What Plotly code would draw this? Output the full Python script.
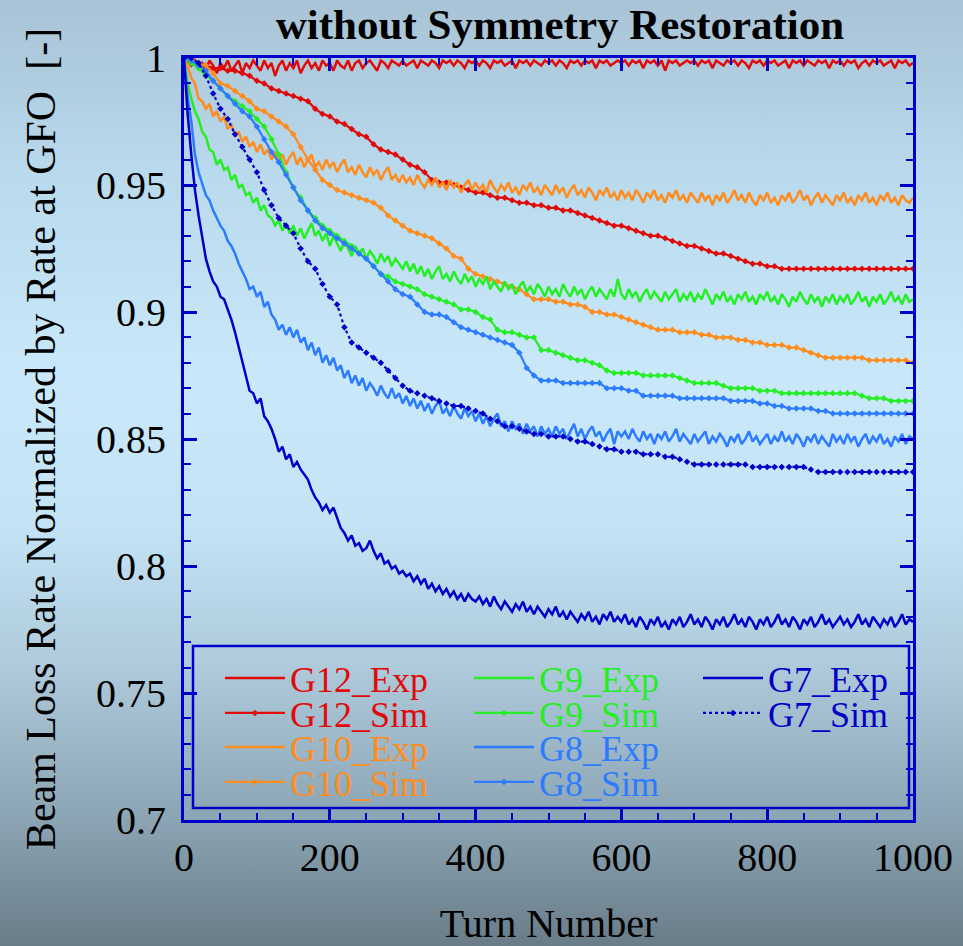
import base64
import plotly.graph_objects as go

# ---------------- data ----------------
turns_exp = list(range(0, 1001, 5))    # measured curves (noisy)
turns_sim = list(range(0, 1001, 10))   # simulated curves (with markers)

series_names = ["G12_Exp", "G12_Sim", "G10_Exp", "G10_Sim", "G9_Exp", "G9_Sim",
                "G8_Exp", "G8_Sim", "G7_Exp", "G7_Sim"]

g12_exp = [1.000, 0.999, 0.997, 0.999, 0.996, 0.998, 0.995, 0.999, 0.997, 0.994,
           0.998, 0.996, 0.999, 0.995, 0.997, 0.999, 0.994, 0.998, 0.996, 0.999,
           0.997, 0.995, 0.999, 0.996, 0.998, 0.993, 0.997, 0.999, 0.995, 0.998,
           0.996, 0.999, 0.994, 0.997, 0.999, 0.996, 0.998, 0.995, 0.999, 0.997,
           0.998, 0.995, 0.999, 0.997, 0.996, 0.999, 0.995, 0.998, 0.999, 0.996,
           0.998, 0.999, 0.997, 0.995, 0.999, 0.998, 0.996, 0.999, 0.998, 0.997,
           0.999, 0.997, 0.998, 0.999, 0.996, 0.999, 0.998, 0.997, 0.999, 0.998,
           0.996, 0.999, 0.998, 0.999, 0.997, 0.999, 0.998, 0.996, 0.999, 0.998,
           0.999, 0.997, 0.999, 0.998, 0.996, 0.999, 0.998, 0.999, 0.997, 0.998,
           0.999, 0.996, 0.999, 0.998, 0.999, 0.997, 0.999, 0.998, 0.997, 0.999,
           0.998, 0.999, 0.997, 0.999, 0.998, 0.996, 0.999, 0.998, 0.999, 0.997,
           0.999, 0.998, 0.999, 0.996, 0.999, 0.998, 0.999, 0.997, 0.998, 0.999,
           0.998, 0.999, 0.997, 0.999, 0.998, 0.999, 0.996, 0.999, 0.998, 0.999,
           0.997, 0.999, 0.995, 0.999, 0.998, 0.999, 0.997, 0.998, 0.999, 0.998,
           0.999, 0.997, 0.999, 0.998, 0.999, 0.996, 0.999, 0.998, 0.997, 0.999,
           0.998, 0.999, 0.997, 0.999, 0.998, 0.996, 0.999, 0.998, 0.999, 0.997,
           0.999, 0.998, 0.999, 0.997, 0.998, 0.999, 0.996, 0.999, 0.998, 0.999,
           0.997, 0.999, 0.998, 0.997, 0.999, 0.998, 0.999, 0.996, 0.999, 0.998,
           0.999, 0.997, 0.999, 0.998, 0.999, 0.996, 0.998, 0.999, 0.997, 0.999,
           0.998, 0.999, 0.997, 0.998, 0.999, 0.996, 0.999, 0.998, 0.999, 0.997,
           0.998]

g10_exp = [1.000, 0.997, 0.992, 0.990, 0.984, 0.983, 0.980, 0.982, 0.977, 0.979,
           0.975, 0.977, 0.972, 0.974, 0.969, 0.971, 0.967, 0.969, 0.965, 0.967,
           0.963, 0.966, 0.962, 0.964, 0.960, 0.963, 0.959, 0.962, 0.958, 0.961,
           0.963, 0.958, 0.961, 0.957, 0.960, 0.962, 0.957, 0.959, 0.956, 0.960,
           0.957, 0.959, 0.955, 0.958, 0.960, 0.955, 0.957, 0.954, 0.958, 0.955,
           0.953, 0.957, 0.954, 0.956, 0.952, 0.955, 0.957, 0.952, 0.954, 0.951,
           0.954, 0.951, 0.953, 0.950, 0.954, 0.951, 0.949, 0.952, 0.950, 0.953,
           0.949, 0.951, 0.948, 0.952, 0.949, 0.951, 0.947, 0.950, 0.952, 0.948,
           0.951, 0.948, 0.950, 0.947, 0.952, 0.949, 0.947, 0.950, 0.948, 0.951,
           0.947, 0.949, 0.946, 0.950, 0.948, 0.951, 0.947, 0.949, 0.946, 0.950,
           0.948, 0.946, 0.950, 0.947, 0.949, 0.945, 0.948, 0.950, 0.946, 0.948,
           0.945, 0.949, 0.947, 0.944, 0.948, 0.946, 0.949, 0.945, 0.947, 0.944,
           0.948, 0.945, 0.947, 0.944, 0.948, 0.946, 0.943, 0.947, 0.945, 0.948,
           0.944, 0.946, 0.943, 0.947, 0.945, 0.948, 0.944, 0.946, 0.943, 0.947,
           0.945, 0.943, 0.947, 0.944, 0.946, 0.942, 0.946, 0.944, 0.947, 0.943,
           0.945, 0.948, 0.944, 0.946, 0.943, 0.947, 0.944, 0.942, 0.946, 0.944,
           0.947, 0.943, 0.945, 0.942, 0.946, 0.944, 0.947, 0.943, 0.945, 0.948,
           0.944, 0.946, 0.942, 0.945, 0.947, 0.943, 0.946, 0.944, 0.942, 0.946,
           0.944, 0.947, 0.943, 0.945, 0.942, 0.946, 0.944, 0.947, 0.943, 0.945,
           0.942, 0.946, 0.944, 0.947, 0.943, 0.945, 0.942, 0.946, 0.944, 0.943,
           0.945]

g9_exp = [1.000, 0.990, 0.984, 0.979, 0.976, 0.971, 0.969, 0.964, 0.963, 0.958,
          0.960, 0.956, 0.957, 0.952, 0.954, 0.949, 0.950, 0.946, 0.947, 0.943,
          0.945, 0.940, 0.942, 0.938, 0.937, 0.934, 0.936, 0.932, 0.935, 0.931,
          0.934, 0.930, 0.933, 0.929, 0.932, 0.935, 0.930, 0.932, 0.928, 0.931,
          0.926, 0.930, 0.927, 0.924, 0.928, 0.925, 0.922, 0.926, 0.923, 0.925,
          0.921, 0.924, 0.922, 0.919, 0.923, 0.920, 0.922, 0.918, 0.921, 0.919,
          0.917, 0.920, 0.916, 0.919, 0.915, 0.918, 0.914, 0.917, 0.913, 0.916,
          0.918, 0.913, 0.915, 0.912, 0.916, 0.913, 0.911, 0.915, 0.912, 0.914,
          0.910, 0.913, 0.911, 0.914, 0.909, 0.912, 0.910, 0.908, 0.912, 0.909,
          0.911, 0.907, 0.910, 0.912, 0.908, 0.910, 0.907, 0.911, 0.909, 0.906,
          0.910, 0.907, 0.909, 0.906, 0.911, 0.908, 0.906, 0.910, 0.907, 0.909,
          0.905, 0.908, 0.910, 0.906, 0.909, 0.907, 0.905, 0.909, 0.906, 0.913,
          0.907, 0.905, 0.909, 0.906, 0.908, 0.904, 0.907, 0.909, 0.905, 0.908,
          0.906, 0.904, 0.908, 0.905, 0.907, 0.909, 0.904, 0.907, 0.905, 0.908,
          0.904, 0.907, 0.905, 0.909, 0.906, 0.903, 0.907, 0.905, 0.908, 0.904,
          0.906, 0.903, 0.907, 0.905, 0.908, 0.904, 0.906, 0.903, 0.907, 0.905,
          0.908, 0.904, 0.906, 0.903, 0.907, 0.905, 0.902, 0.906, 0.904, 0.908,
          0.905, 0.903, 0.907, 0.904, 0.906, 0.902, 0.906, 0.904, 0.907, 0.903,
          0.906, 0.904, 0.907, 0.903, 0.905, 0.908, 0.904, 0.906, 0.902, 0.906,
          0.904, 0.907, 0.903, 0.905, 0.908, 0.904, 0.906, 0.903, 0.907, 0.904,
          0.905]

g8_exp = [1.000, 0.985, 0.975, 0.962, 0.955, 0.950, 0.946, 0.944, 0.940, 0.937,
          0.934, 0.932, 0.928, 0.926, 0.923, 0.919, 0.916, 0.913, 0.909, 0.910,
          0.906, 0.908, 0.902, 0.904, 0.899, 0.897, 0.893, 0.895, 0.891, 0.894,
          0.890, 0.893, 0.888, 0.890, 0.885, 0.888, 0.883, 0.886, 0.880, 0.883,
          0.879, 0.882, 0.877, 0.879, 0.874, 0.877, 0.872, 0.875, 0.871, 0.874,
          0.869, 0.872, 0.870, 0.867, 0.871, 0.868, 0.866, 0.870, 0.866, 0.868,
          0.864, 0.867, 0.863, 0.866, 0.862, 0.865, 0.861, 0.864, 0.860, 0.863,
          0.865, 0.860, 0.862, 0.859, 0.863, 0.860, 0.858, 0.862, 0.859, 0.861,
          0.857, 0.860, 0.856, 0.859, 0.855, 0.858, 0.860, 0.855, 0.857, 0.853,
          0.857, 0.854, 0.856, 0.852, 0.856, 0.853, 0.855, 0.851, 0.855, 0.852,
          0.854, 0.851, 0.855, 0.852, 0.854, 0.850, 0.853, 0.856, 0.851, 0.854,
          0.850, 0.853, 0.855, 0.851, 0.853, 0.849, 0.852, 0.854, 0.848, 0.853,
          0.851, 0.853, 0.850, 0.854, 0.851, 0.849, 0.853, 0.850, 0.852, 0.848,
          0.852, 0.850, 0.853, 0.849, 0.851, 0.854, 0.849, 0.852, 0.850, 0.848,
          0.852, 0.849, 0.851, 0.853, 0.848, 0.851, 0.849, 0.852, 0.850, 0.847,
          0.851, 0.849, 0.852, 0.848, 0.850, 0.853, 0.849, 0.851, 0.848, 0.850,
          0.852, 0.848, 0.851, 0.849, 0.853, 0.849, 0.851, 0.848, 0.852, 0.850,
          0.847, 0.851, 0.849, 0.852, 0.848, 0.851, 0.849, 0.847, 0.852, 0.849,
          0.851, 0.848, 0.852, 0.849, 0.851, 0.847, 0.850, 0.852, 0.848, 0.851,
          0.849, 0.852, 0.848, 0.850, 0.847, 0.851, 0.849, 0.852, 0.848, 0.851,
          0.850]

g7_exp = [1.000, 0.978, 0.962, 0.948, 0.938, 0.929, 0.921, 0.916, 0.912, 0.910,
          0.906, 0.905, 0.901, 0.897, 0.892, 0.886, 0.880, 0.875, 0.869, 0.868,
          0.864, 0.866, 0.859, 0.857, 0.854, 0.850, 0.845, 0.847, 0.842, 0.844,
          0.839, 0.841, 0.838, 0.836, 0.834, 0.830, 0.827, 0.825, 0.822, 0.824,
          0.821, 0.823, 0.819, 0.815, 0.813, 0.810, 0.812, 0.808, 0.809, 0.806,
          0.807, 0.810, 0.806, 0.803, 0.805, 0.801, 0.802, 0.799, 0.800, 0.797,
          0.798, 0.796, 0.797, 0.794, 0.796, 0.793, 0.795, 0.791, 0.793, 0.790,
          0.792, 0.789, 0.791, 0.788, 0.790, 0.787, 0.789, 0.786, 0.789, 0.787,
          0.786, 0.788, 0.785, 0.787, 0.784, 0.788, 0.785, 0.783, 0.786, 0.784,
          0.782, 0.785, 0.783, 0.786, 0.782, 0.784, 0.781, 0.784, 0.782, 0.780,
          0.783, 0.781, 0.784, 0.780, 0.782, 0.779, 0.782, 0.780, 0.778, 0.781,
          0.779, 0.782, 0.778, 0.780, 0.777, 0.781, 0.779, 0.782, 0.778, 0.780,
          0.778, 0.781, 0.777, 0.779, 0.776, 0.780, 0.778, 0.775, 0.779, 0.777,
          0.780, 0.776, 0.778, 0.775, 0.779, 0.777, 0.780, 0.776, 0.778, 0.781,
          0.777, 0.779, 0.776, 0.780, 0.778, 0.775, 0.779, 0.777, 0.780, 0.776,
          0.778, 0.781, 0.777, 0.779, 0.776, 0.780, 0.778, 0.775, 0.779, 0.777,
          0.780, 0.776, 0.778, 0.781, 0.777, 0.779, 0.776, 0.780, 0.778, 0.775,
          0.779, 0.777, 0.780, 0.776, 0.778, 0.781, 0.777, 0.779, 0.776, 0.778,
          0.780, 0.777, 0.779, 0.776, 0.778, 0.781, 0.777, 0.779, 0.776, 0.780,
          0.778, 0.776, 0.779, 0.777, 0.780, 0.776, 0.778, 0.781, 0.777, 0.779,
          0.778]

g12_sim = [1.000, 0.999, 0.998, 0.997, 0.996, 0.996, 0.995, 0.995, 0.994, 0.993,
           0.991, 0.990, 0.988, 0.987, 0.986, 0.985, 0.984, 0.983, 0.980, 0.978,
           0.977, 0.975, 0.974, 0.972, 0.970, 0.969, 0.966, 0.964, 0.963, 0.962,
           0.960, 0.958, 0.957, 0.955, 0.952, 0.951, 0.951, 0.950, 0.949, 0.948,
           0.947, 0.947, 0.946, 0.945, 0.945, 0.944, 0.943, 0.943, 0.942, 0.942,
           0.941, 0.941, 0.940, 0.940, 0.939, 0.938, 0.937, 0.936, 0.935, 0.934,
           0.934, 0.933, 0.932, 0.931, 0.930, 0.930, 0.929, 0.928, 0.927, 0.926,
           0.926, 0.925, 0.924, 0.923, 0.923, 0.922, 0.921, 0.920, 0.919, 0.919,
           0.918, 0.918, 0.917, 0.917, 0.917, 0.917, 0.917, 0.917, 0.917, 0.917,
           0.917, 0.917, 0.917, 0.917, 0.917, 0.917, 0.917, 0.917, 0.917, 0.917,
           0.917]

g10_sim = [1.000, 0.999, 0.998, 0.997, 0.994, 0.990, 0.989, 0.987, 0.985, 0.983,
           0.980, 0.979, 0.977, 0.975, 0.973, 0.970, 0.965, 0.960, 0.956, 0.952,
           0.950, 0.948, 0.947, 0.946, 0.945, 0.944, 0.943, 0.941, 0.938, 0.936,
           0.934, 0.932, 0.931, 0.930, 0.929, 0.927, 0.925, 0.922, 0.921, 0.917,
           0.915, 0.914, 0.913, 0.912, 0.911, 0.910, 0.909, 0.907, 0.905, 0.905,
           0.905, 0.904, 0.904, 0.903, 0.903, 0.902, 0.900, 0.900, 0.899, 0.899,
           0.898, 0.897, 0.896, 0.895, 0.894, 0.893, 0.893, 0.893, 0.892, 0.892,
           0.892, 0.891, 0.891, 0.890, 0.890, 0.890, 0.889, 0.889, 0.888, 0.888,
           0.887, 0.887, 0.887, 0.886, 0.886, 0.885, 0.884, 0.883, 0.882, 0.882,
           0.882, 0.882, 0.882, 0.882, 0.881, 0.881, 0.881, 0.881, 0.881, 0.881,
           0.880]

g9_sim = [1.000, 0.998, 0.996, 0.993, 0.991, 0.988, 0.985, 0.983, 0.981, 0.979,
          0.976, 0.973, 0.968, 0.962, 0.955, 0.949, 0.945, 0.940, 0.937, 0.934,
          0.932, 0.930, 0.928, 0.926, 0.923, 0.921, 0.918, 0.915, 0.914, 0.912,
          0.911, 0.910, 0.909, 0.907, 0.906, 0.905, 0.904, 0.903, 0.901, 0.901,
          0.900, 0.898, 0.897, 0.893, 0.892, 0.892, 0.891, 0.890, 0.890, 0.885,
          0.885, 0.884, 0.883, 0.882, 0.881, 0.881, 0.880, 0.879, 0.877, 0.876,
          0.876, 0.876, 0.876, 0.875, 0.875, 0.875, 0.875, 0.875, 0.874, 0.873,
          0.872, 0.872, 0.872, 0.872, 0.871, 0.870, 0.870, 0.870, 0.870, 0.869,
          0.869, 0.869, 0.868, 0.868, 0.868, 0.868, 0.868, 0.868, 0.868, 0.868,
          0.868, 0.868, 0.868, 0.867, 0.866, 0.866, 0.866, 0.865, 0.865, 0.865,
          0.865]

g8_sim = [1.000, 0.999, 0.997, 0.995, 0.991, 0.988, 0.985, 0.982, 0.979, 0.977,
          0.973, 0.968, 0.963, 0.959, 0.954, 0.949, 0.944, 0.940, 0.936, 0.933,
          0.931, 0.929, 0.927, 0.925, 0.923, 0.921, 0.918, 0.915, 0.912, 0.909,
          0.907, 0.906, 0.903, 0.900, 0.899, 0.899, 0.898, 0.896, 0.894, 0.893,
          0.892, 0.891, 0.890, 0.889, 0.888, 0.887, 0.884, 0.878, 0.875, 0.873,
          0.873, 0.873, 0.872, 0.872, 0.872, 0.872, 0.872, 0.872, 0.870, 0.870,
          0.870, 0.869, 0.869, 0.867, 0.867, 0.867, 0.867, 0.867, 0.866, 0.866,
          0.866, 0.866, 0.866, 0.866, 0.866, 0.865, 0.865, 0.865, 0.865, 0.864,
          0.864, 0.863, 0.863, 0.862, 0.862, 0.862, 0.862, 0.861, 0.861, 0.860,
          0.860, 0.860, 0.860, 0.860, 0.860, 0.860, 0.860, 0.860, 0.860, 0.860,
          0.860]

g7_sim = [1.000, 1.000, 0.998, 0.993, 0.986, 0.980, 0.976, 0.970, 0.965, 0.960,
          0.955, 0.948, 0.942, 0.937, 0.934, 0.931, 0.925, 0.920, 0.917, 0.911,
          0.906, 0.903, 0.894, 0.888, 0.886, 0.884, 0.882, 0.880, 0.877, 0.874,
          0.871, 0.869, 0.868, 0.867, 0.866, 0.865, 0.864, 0.863, 0.863, 0.862,
          0.861, 0.860, 0.858, 0.857, 0.855, 0.855, 0.854, 0.853, 0.852, 0.852,
          0.851, 0.851, 0.851, 0.850, 0.849, 0.849, 0.848, 0.847, 0.846, 0.846,
          0.845, 0.845, 0.845, 0.844, 0.844, 0.844, 0.843, 0.843, 0.842, 0.841,
          0.840, 0.840, 0.840, 0.840, 0.840, 0.840, 0.840, 0.840, 0.839, 0.839,
          0.839, 0.839, 0.839, 0.839, 0.839, 0.839, 0.838, 0.837, 0.837, 0.837,
          0.837, 0.837, 0.837, 0.837, 0.837, 0.837, 0.837, 0.837, 0.837, 0.837,
          0.837]

x_ticks = [0, 200, 400, 600, 800, 1000]
y_ticks = [0.7, 0.75, 0.8, 0.85, 0.9, 0.95, 1.0]

# ---------------- styling ----------------
RED = "#E00A0A"
ORANGE = "#FF8C1E"
GREEN = "#26EE26"
MBLUE = "#2D7BFF"
DBLUE = "#0000C8"
FRAME = "#0000CC"
SERIF = "Liberation Serif, Times New Roman, serif"

W, H = 963, 946
L, R, T, B = 184, 50, 58, 126
pw, ph = W - L - R, H - T - B


def px_x(px):
    return (px - L) / pw


def px_y(py):
    return (H - B - py) / ph


all_values = [g12_exp, g12_sim, g10_exp, g10_sim, g9_exp, g9_sim,
              g8_exp, g8_sim, g7_exp, g7_sim]
series_colors = [RED, RED, ORANGE, ORANGE, GREEN, GREEN, MBLUE, MBLUE, DBLUE, DBLUE]
# legend slot (column, row) of each series, as in the reference legend
legend_slots = [(0, 0), (0, 1), (0, 2), (0, 3), (1, 0), (1, 1), (1, 2), (1, 3), (2, 0), (2, 1)]
col_text_px = [290, 539, 768]
row_mid_px = [678, 713, 747, 782]

fig = go.Figure()
legend_layouts = {}
for i, (name, vals, col, slot) in enumerate(zip(series_names, all_values, series_colors, legend_slots)):
    is_sim = name.endswith("Sim")
    xs = turns_sim if is_sim else turns_exp
    dash = "dot" if name == "G7_Sim" else "solid"
    lg = "legend" if i == 0 else f"legend{i + 1}"
    fig.add_trace(go.Scatter(
        x=xs, y=vals,
        mode="lines+markers" if is_sim else "lines",
        name=f'<span style="color:{col}">{name}</span>',
        line=dict(color=col, width=2.2 if is_sim else 2.5, dash=dash),
        marker=dict(symbol="diamond", size=5, color=col),
        legend=lg,
    ))
    c, r = slot
    legend_layouts[lg] = dict(
        bgcolor="rgba(0,0,0,0)", borderwidth=0, xanchor="left", yanchor="middle",
        font=dict(family=SERIF, size=36, color="black"), itemwidth=60,
        x=px_x(col_text_px[c] - 70), y=px_y(row_mid_px[r]),
    )

# gradient background as an inline SVG image
svg = ('<svg xmlns="http://www.w3.org/2000/svg" width="963" height="946" '
       'preserveAspectRatio="none"><defs><linearGradient id="g" x1="0" y1="0" x2="0" y2="1">'
       '<stop offset="0" stop-color="#A8C3D5"/>'
       '<stop offset="0.18" stop-color="#B9D9EC"/>'
       '<stop offset="0.40" stop-color="#C9E9FB"/>'
       '<stop offset="0.55" stop-color="#C4E4F6"/>'
       '<stop offset="0.70" stop-color="#AFCBDC"/>'
       '<stop offset="0.86" stop-color="#8DA6B5"/>'
       '<stop offset="1" stop-color="#697C88"/>'
       '</linearGradient></defs><rect width="963" height="946" fill="url(#g)"/></svg>')
bg_src = "data:image/svg+xml;base64," + base64.b64encode(svg.encode()).decode()

fig.add_layout_image(dict(
    source=bg_src, xref="paper", yref="paper",
    x=px_x(0), y=px_y(0), sizex=W / pw, sizey=H / ph,
    xanchor="left", yanchor="top", sizing="stretch", layer="below",
))

# legend frame
fig.add_shape(type="rect", xref="paper", yref="paper",
              x0=px_x(193), x1=px_x(909), y0=px_y(808), y1=px_y(646),
              line=dict(color=FRAME, width=2.5), fillcolor="rgba(0,0,0,0)")

axis_common = dict(
    showline=True, linecolor=FRAME, linewidth=3, mirror="allticks",
    ticks="inside", ticklen=13, tickwidth=3, tickcolor=FRAME,
    showgrid=False, zeroline=False, automargin=False,
    tickfont=dict(family=SERIF, size=40, color="black"),
)

fig.update_xaxes(
    **axis_common, range=[0, 1000], tickvals=x_ticks, ticklabelstandoff=0,
    minor=dict(ticks="inside", ticklen=7, tickwidth=2, tickcolor=FRAME, dtick=50, showgrid=False),
    title=dict(text="Turn Number", font=dict(family=SERIF, size=40, color="black"), standoff=44),
)
fig.update_yaxes(
    **axis_common, range=[0.7, 1.0], tickvals=y_ticks, ticklabelstandoff=7,
    minor=dict(ticks="inside", ticklen=7, tickwidth=2, tickcolor=FRAME, dtick=0.01, showgrid=False),
    title=dict(text="Beam Loss Rate Normalized by Rate at GFO  [-]",
               font=dict(family=SERIF, size=42, color="black"), standoff=28),
)

fig.update_layout(
    width=W, height=H,
    margin=dict(l=L, r=R, t=T, b=B, pad=0),
    paper_bgcolor="#B9D9EC", plot_bgcolor="rgba(0,0,0,0)",
    title=dict(text="<b>without Symmetry Restoration</b>", x=px_x(560), xref="paper",
               xanchor="center", y=1 - 24 / H, yref="container", yanchor="middle",
               font=dict(family=SERIF, size=43, color="black")),
    showlegend=True,
    **legend_layouts,
)

fig.write_html("out.html")
